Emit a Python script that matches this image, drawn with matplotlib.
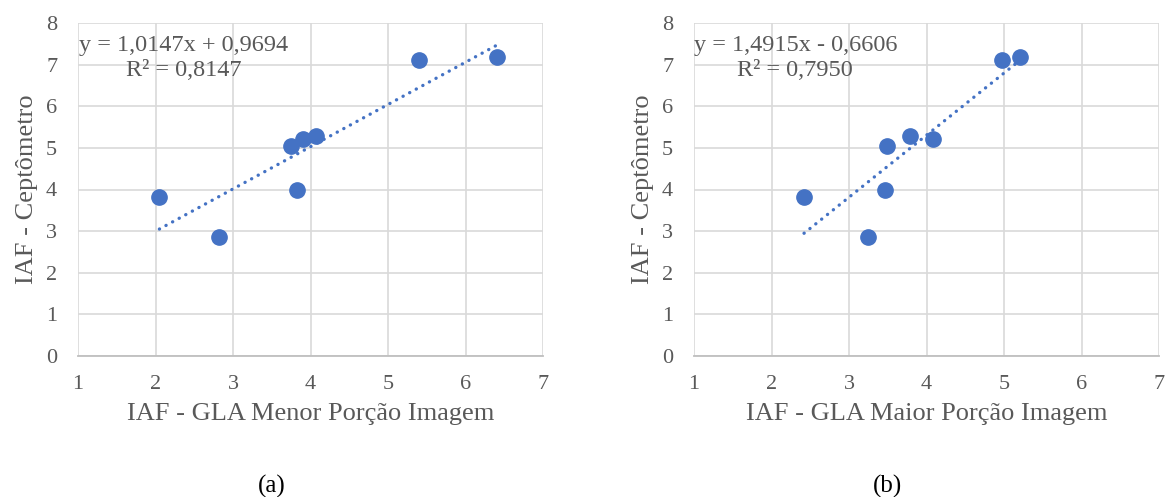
import numpy as np
import matplotlib.pyplot as plt

# IAF values
x_menor = [2.05, 2.82, 3.75, 3.82, 3.90, 4.07, 5.40, 6.40]
x_maior = [2.42, 3.24, 3.49, 3.46, 4.09, 3.79, 4.98, 5.20]
y_cepto = [3.83, 2.85, 5.05, 4.00, 5.22, 5.28, 7.11, 7.18]

coef_a = (1.0147, 0.9694)
coef_b = (1.4915, -0.6606)
eq_a = ['y = 1,0147x + 0,9694', 'R² = 0,8147']
eq_b = ['y = 1,4915x - 0,6606', 'R² = 0,7950']

xlabels = ['IAF - GLA Menor Porção Imagem', 'IAF - GLA Maior Porção Imagem']
ylabel = 'IAF - Ceptômetro'
captions = ['(a)', '(b)']

plt.rcParams['font.family'] = ['Liberation Serif', 'DejaVu Serif']
blue = '#4472C4'
grey = '#595959'

fig = plt.figure(figsize=(11.69, 4.97), dpi=100)
W, H = 1169, 497
# axes boxes in pixels: left, right, top, bottom
boxes = [(78, 543, 23, 356), (694, 1159, 23, 356)]
cap_x = [272, 887]
eq_cx = [0.227, 0.218]

panels = [(x_menor, coef_a, eq_a), (x_maior, coef_b, eq_b)]

for i, (xs, coef, eq) in enumerate(panels):
    l, r, t, b = boxes[i]
    ax = fig.add_axes([l / W, 1 - b / H, (r - l) / W, (b - t) / H])
    ax.set_xlim(1, 7)
    ax.set_ylim(0, 8)
    ax.set_xticks(range(1, 8))
    ax.set_yticks(range(0, 9))
    ax.grid(True, color='#d9d9d9', linewidth=1.2)
    ax.set_axisbelow(True)
    for s in ['top', 'right', 'left']:
        ax.spines[s].set_visible(False)
    ax.spines['bottom'].set_color('#bfbfbf')
    ax.spines['bottom'].set_linewidth(1.3)
    ax.tick_params(length=0, labelsize=16, labelcolor=grey)
    ax.tick_params(axis='x', pad=14)
    ax.tick_params(axis='y', pad=15)

    # trendline across the data range
    xt = np.array([min(xs), max(xs)])
    ax.plot(xt, coef[0] * xt + coef[1], color=blue, linestyle=(0, (0.05, 2.2)),
            linewidth=2.4, dash_capstyle='round', zorder=2)
    ax.plot(xs, y_cepto, 'o', color=blue, markersize=11, zorder=3)

    ax.text(eq_cx[i], 1 - (45 - t) / (b - t), eq[0], transform=ax.transAxes,
            fontsize=17.5, color=grey, ha='center', va='center')
    ax.text(eq_cx[i], 1 - (71 - t) / (b - t), eq[1], transform=ax.transAxes,
            fontsize=17.5, color=grey, ha='center', va='center')

    ax.set_xlabel(xlabels[i], fontsize=19, color=grey, labelpad=6)
    ax.set_ylabel(ylabel, fontsize=19, color=grey, labelpad=6)

    fig.text(cap_x[i] / W, 1 - 486 / H, captions[i], fontsize=18,
             color='black', ha='center', va='center')

fig.savefig('out.png', dpi=100)
